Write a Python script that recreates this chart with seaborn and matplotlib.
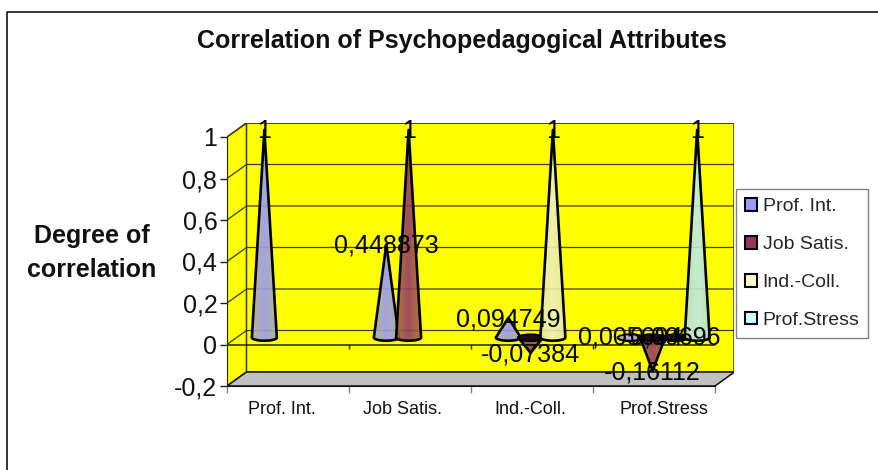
import numpy as np
import pandas as pd
import matplotlib
matplotlib.use("Agg")
import matplotlib.pyplot as plt
from matplotlib.patches import Polygon, Patch, Ellipse
from matplotlib.lines import Line2D
import seaborn as sns

attributes = ["Prof. Int.", "Job Satis.", "Ind.-Coll.", "Prof.Stress"]
series_names = ["Prof. Int.", "Job Satis.", "Ind.-Coll.", "Prof.Stress"]
prof_int = [1, 0.448873, 0.094749, 0.005694]
job_satis = [np.nan, 1, -0.07384, -0.16112]
ind_coll = [np.nan, np.nan, 1, 0.00696]
prof_stress = [np.nan, np.nan, np.nan, 1]
y_ticks = [-0.2, 0, 0.2, 0.4, 0.6, 0.8, 1]
legend_colors = ["#9999FF", "#993366", "#FFFFCC", "#CCFFFF"]
edge_colors = ["#ababab", "#a8683c", "#e6e6a6", "#bcdcc0"]
mid_colors = ["#9a9afa", "#963a68", "#efefbc", "#bcecec"]

df = pd.DataFrame({
    "attribute": attributes * 4,
    "series": [s for s in series_names for _ in attributes],
    "value": prof_int + job_satis + ind_coll + prof_stress,
})

W, H = 879, 470
sns.set_style("white")
plt.rcParams["font.family"] = ["Liberation Sans", "DejaVu Sans"]
fig = plt.figure(figsize=(W / 100, H / 100), dpi=100)

L, R, T, B = 227.0, 734.5, 123.0, 386.0
ax = fig.add_axes([L / W, 1 - B / H, (R - L) / W, (B - T) / H])
ax.patch.set_alpha(0)

sns.barplot(data=df.dropna(), x="attribute", y="value", hue="series",
            order=attributes, hue_order=series_names, width=0.73, dodge=True,
            errorbar=None, palette=legend_colors, legend=False, ax=ax)

DX, DY = 19.5 / 122.0, 14.0 / 207.5   # depth of the 3-D box
x0, x1, y0, y1 = -0.5, 3.5, -0.2, 1.0
ink = "#3c3c00"

# walls and floor
ax.add_patch(Polygon([(x0 + DX, y0 + DY), (x1 + DX, y0 + DY), (x1 + DX, y1 + DY), (x0 + DX, y1 + DY)],
                     fc="#FFFF00", ec=ink, lw=1.1, zorder=0.5))
ax.add_patch(Polygon([(x0, y0), (x0 + DX, y0 + DY), (x0 + DX, y1 + DY), (x0, y1)],
                     fc="#FFFF00", ec=ink, lw=1.1, zorder=0.5))
ax.add_patch(Polygon([(x0, y0), (x1, y0), (x1 + DX, y0 + DY), (x0 + DX, y0 + DY)],
                     fc="#C0C0C0", ec="#111111", lw=1.1, zorder=0.6))
for t in y_ticks[1:]:
    ax.plot([x0, x0 + DX, x1 + DX], [t, t + DY, t + DY], color=ink, lw=0.9, zorder=0.7)
ax.plot([x0, x1], [0, 0], color="#222200", lw=1.1, zorder=0.8)
ax.vlines(np.arange(0.5, 3.5), -0.022, 0, color="#222200", lw=1.0, zorder=0.8)

# cones built from the bars that seaborn placed
half_w_px, ell_px = 12.5, 3.2
hw = half_w_px / 122.0
eh = ell_px / 207.5
tips = []
for k, cont in enumerate(ax.containers):
    grad = np.linspace(0, 1, 25)
    grad = np.abs(grad - 0.5) * 2
    c_edge = np.array(matplotlib.colors.to_rgb(edge_colors[k]))
    c_mid = np.array(matplotlib.colors.to_rgb(mid_colors[k]))
    rgb = (c_mid[None, :] * (1 - grad[:, None]) + c_edge[None, :] * grad[:, None])[None, :, :]
    for bar in cont:
        v = bar.get_height()
        if not np.isfinite(v) or bar.get_width() == 0:
            continue
        bar.set_visible(False)
        cx = bar.get_x() + bar.get_width() / 2 + DX / 2
        by = DY / 2
        z = 2 + k * 0.1
        tip = (cx, by + v)
        th = np.linspace(0, np.pi, 30)
        arc = [(cx - hw * np.cos(a), by - eh * np.sin(a)) for a in th]
        poly = Polygon([tip] + arc, closed=True, fc="none", ec="none", transform=ax.transData)
        ax.add_patch(poly)
        ylo, yhi = min(by - eh, by + v), max(by + eh, by + v)
        im = ax.imshow(rgb, extent=(cx - hw, cx + hw, ylo, yhi), aspect="auto",
                       zorder=z, alpha=0.9, interpolation="bilinear")
        im.set_clip_path(poly)
        ax.add_patch(Polygon([tip] + arc, closed=True, fc="none", ec="black",
                             lw=1.9, joinstyle="round", zorder=z + 0.01))
        if k > 0 and v < 0.02:
            ax.add_patch(Ellipse((cx, by), 2 * hw, 2 * eh, fc="#201010", ec="black",
                                 lw=1.3, zorder=z + 0.02))
        elif k == 0 and v < 0.02:
            ax.add_patch(Ellipse((cx, by), 2 * hw, 2 * eh, fc="#b4b4b4", ec="black",
                                 lw=1.3, zorder=z + 0.02))
        tips.append((cx, by + v, v))

for cx, ty, v in tips:
    ax.text(cx, ty - 1.5 / 207.5, ("%.6g" % v).replace(".", ","), ha="center", va="center",
            fontsize=18, color="black", zorder=5)

ax.set_xlim(x0, x1 + DX)
ax.set_ylim(y0, y1 + DY)
ax.set_xlabel("")
ax.set_ylabel("")
for s in ["top", "right"]:
    ax.spines[s].set_visible(False)
ax.spines["left"].set_bounds(y0, y1)
ax.spines["bottom"].set_bounds(x0, x1)
ax.spines["left"].set_color("#222200")
ax.spines["bottom"].set_color("#111111")
ax.set_yticks(y_ticks)
ax.set_yticklabels([("%g" % t).replace(".", ",") for t in y_ticks], fontsize=18, color="#111111")
label_shift = np.array([-0.05, -0.065, -0.015, 0.08])
ax.set_xticks(np.arange(4) + label_shift)
ax.set_xticklabels(attributes, fontsize=13, color="#111111")
ax.set_xticks(np.arange(-0.5, 4.0), minor=True)
ax.tick_params(axis="x", which="major", length=0, pad=11)
ax.tick_params(axis="x", which="minor", length=5, width=1, color="#808080", bottom=True)
ax.tick_params(axis="y", length=5, width=1, color="#222222", left=True, pad=2)

# legend
handles = [Patch(fc=c, ec="black", lw=1.5) for c in legend_colors]
fig.legend(handles, series_names, loc="center left",
           bbox_to_anchor=(736 / W, 1 - 263.5 / H), fontsize=14, frameon=True,
           fancybox=False, edgecolor="#808080", framealpha=1, borderaxespad=0,
           borderpad=0.45, labelspacing=1.07, handlelength=0.62, handleheight=0.62,
           handletextpad=0.3)

# titles
fig.text(462 / W, 1 - 41 / H, "Correlation of Psychopedagogical Attributes",
         ha="center", va="center", fontsize=18, fontweight="bold", color="#111111")
fig.text(92 / W, 1 - 236 / H, "Degree of", ha="center", va="center",
         fontsize=18, fontweight="bold", color="#111111")
fig.text(92 / W, 1 - 270 / H, "correlation", ha="center", va="center",
         fontsize=18, fontweight="bold", color="#111111")

# outer chart frame (open on the right and bottom)
fig.add_artist(Line2D([7.5 / W, 7.5 / W, 1], [0, 1 - 11.5 / H, 1 - 11.5 / H], color="black", lw=1.1))

fig.savefig("out.png", dpi=100)
